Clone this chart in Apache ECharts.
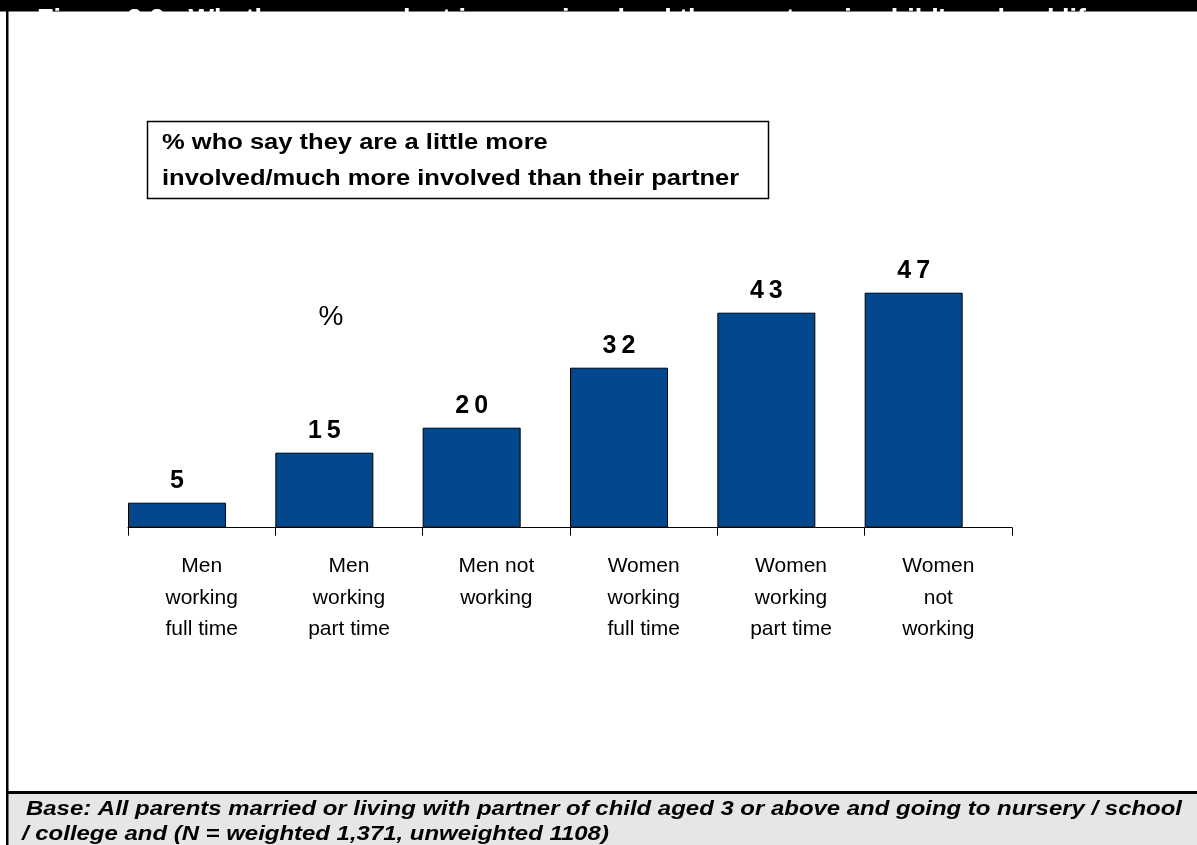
<!DOCTYPE html>
<html>
<head>
<meta charset="utf-8">
<script src="https://cdn.jsdelivr.net/npm/echarts@6/dist/echarts.min.js"></script>
<style>
  html, body { margin: 0; padding: 0; background: #fff; }
  #chart { width: 1197px; height: 845px; }
</style>
</head>
<body>
<div id="chart"></div>
<script>
// Categories and values (% who say they are more involved than their partner)
const categories = [
  'Men\nworking\nfull time',
  'Men\nworking\npart time',
  'Men not\nworking',
  'Women\nworking\nfull time',
  'Women\nworking\npart time',
  'Women\nnot\nworking'
];
const values = [5, 15, 20, 32, 43, 47];

const titleText = "Figure 2.2 - Whether respondent is more involved than partner in child's school life";
const boxLines = ['% who say they are a little more', 'involved/much more involved than their partner'];
const unitText = '%';
const baseLines = [
  'Base: All parents married or living with partner of child aged 3 or above and going to nursery / school',
  '/ college and (N = weighted 1,371, unweighted 1108)'
];

const FONT = '"Liberation Sans", Arial, Helvetica, sans-serif';
const chart = echarts.init(document.getElementById('chart'), null, { renderer: 'canvas' });

chart.setOption({
  backgroundColor: '#ffffff',
  animation: false,
  grid: { left: 128, right: 185, top: 277.7, height: 250 },
  xAxis: {
    type: 'category',
    data: categories,
    boundaryGap: true,
    axisLine: { lineStyle: { color: '#000', width: 1 } },
    axisTick: { show: true, length: 8, lineStyle: { color: '#000', width: 1 } },
    axisLabel: {
      color: '#000',
      fontFamily: FONT,
      fontSize: 21,
      lineHeight: 31.5,
      margin: 23,
      interval: 0
    }
  },
  yAxis: {
    type: 'value',
    min: 0,
    max: 50,
    show: false,
    splitLine: { show: false }
  },
  series: [
    {
      name: 'involved',
      type: 'bar',
      data: values,
      barWidth: 98,
      barGap: '0%',
      itemStyle: { color: '#03478D', borderColor: '#000', borderWidth: 1 },
      label: {
        show: true,
        position: 'top',
        distance: 9,
        color: '#000',
        fontFamily: FONT,
        fontWeight: 'bold',
        fontSize: 25,
        // digits are drawn slightly spaced apart
        formatter: (p) => String(p.value).split('').join('\u2009')
      }
    },
    {
      // empty slot so each bar sits at the left of its category band
      name: 'spacer',
      type: 'bar',
      data: values.map(() => null),
      barWidth: 49.33,
      barGap: '0%',
      silent: true,
      itemStyle: { color: 'transparent' }
    }
  ],
  graphic: [
    // header band with title
    { type: 'rect', shape: { x: 0, y: 0, width: 1197, height: 11.5 }, style: { fill: '#000' }, z: 10 },
    { type: 'text', x: 37, y: 7, z: 11,
      style: { text: titleText, fill: '#fff', font: 'bold 27px ' + FONT, textBaseline: 'alphabetic' } },
    // left frame line
    { type: 'rect', shape: { x: 6, y: 0, width: 2.5, height: 845 }, style: { fill: '#000' }, z: 10 },
    // footer (wide lettering)
    { type: 'rect', shape: { x: 8, y: 793, width: 1189, height: 52 }, style: { fill: '#e6e6e6' }, z: 9 },
    { type: 'rect', shape: { x: 6, y: 791, width: 1191, height: 3 }, style: { fill: '#000' }, z: 10 },
    { type: 'text', x: 26, y: 809, scaleX: 1.14, z: 11,
      style: { text: baseLines[0], fill: '#000', font: 'italic bold 21px ' + FONT, textVerticalAlign: 'middle' } },
    { type: 'text', x: 22, y: 834, scaleX: 1.14, z: 11,
      style: { text: baseLines[1], fill: '#000', font: 'italic bold 21px ' + FONT, textVerticalAlign: 'middle' } },
    // description box (wide lettering)
    { type: 'rect', shape: { x: 147.5, y: 121.5, width: 621, height: 77 },
      style: { fill: '#fff', stroke: '#000', lineWidth: 1.5 }, z: 5 },
    { type: 'text', x: 162, y: 143, scaleX: 1.16, z: 6,
      style: { text: boxLines[0], fill: '#000', font: 'bold 22px ' + FONT, textVerticalAlign: 'middle' } },
    { type: 'text', x: 162, y: 179, scaleX: 1.16, z: 6,
      style: { text: boxLines[1], fill: '#000', font: 'bold 22px ' + FONT, textVerticalAlign: 'middle' } },
    // unit marker
    { type: 'text', x: 331, y: 317, z: 6,
      style: { text: unitText, fill: '#000', font: '28px ' + FONT, textAlign: 'center', textVerticalAlign: 'middle' } }
  ]
});
</script>
</body>
</html>
